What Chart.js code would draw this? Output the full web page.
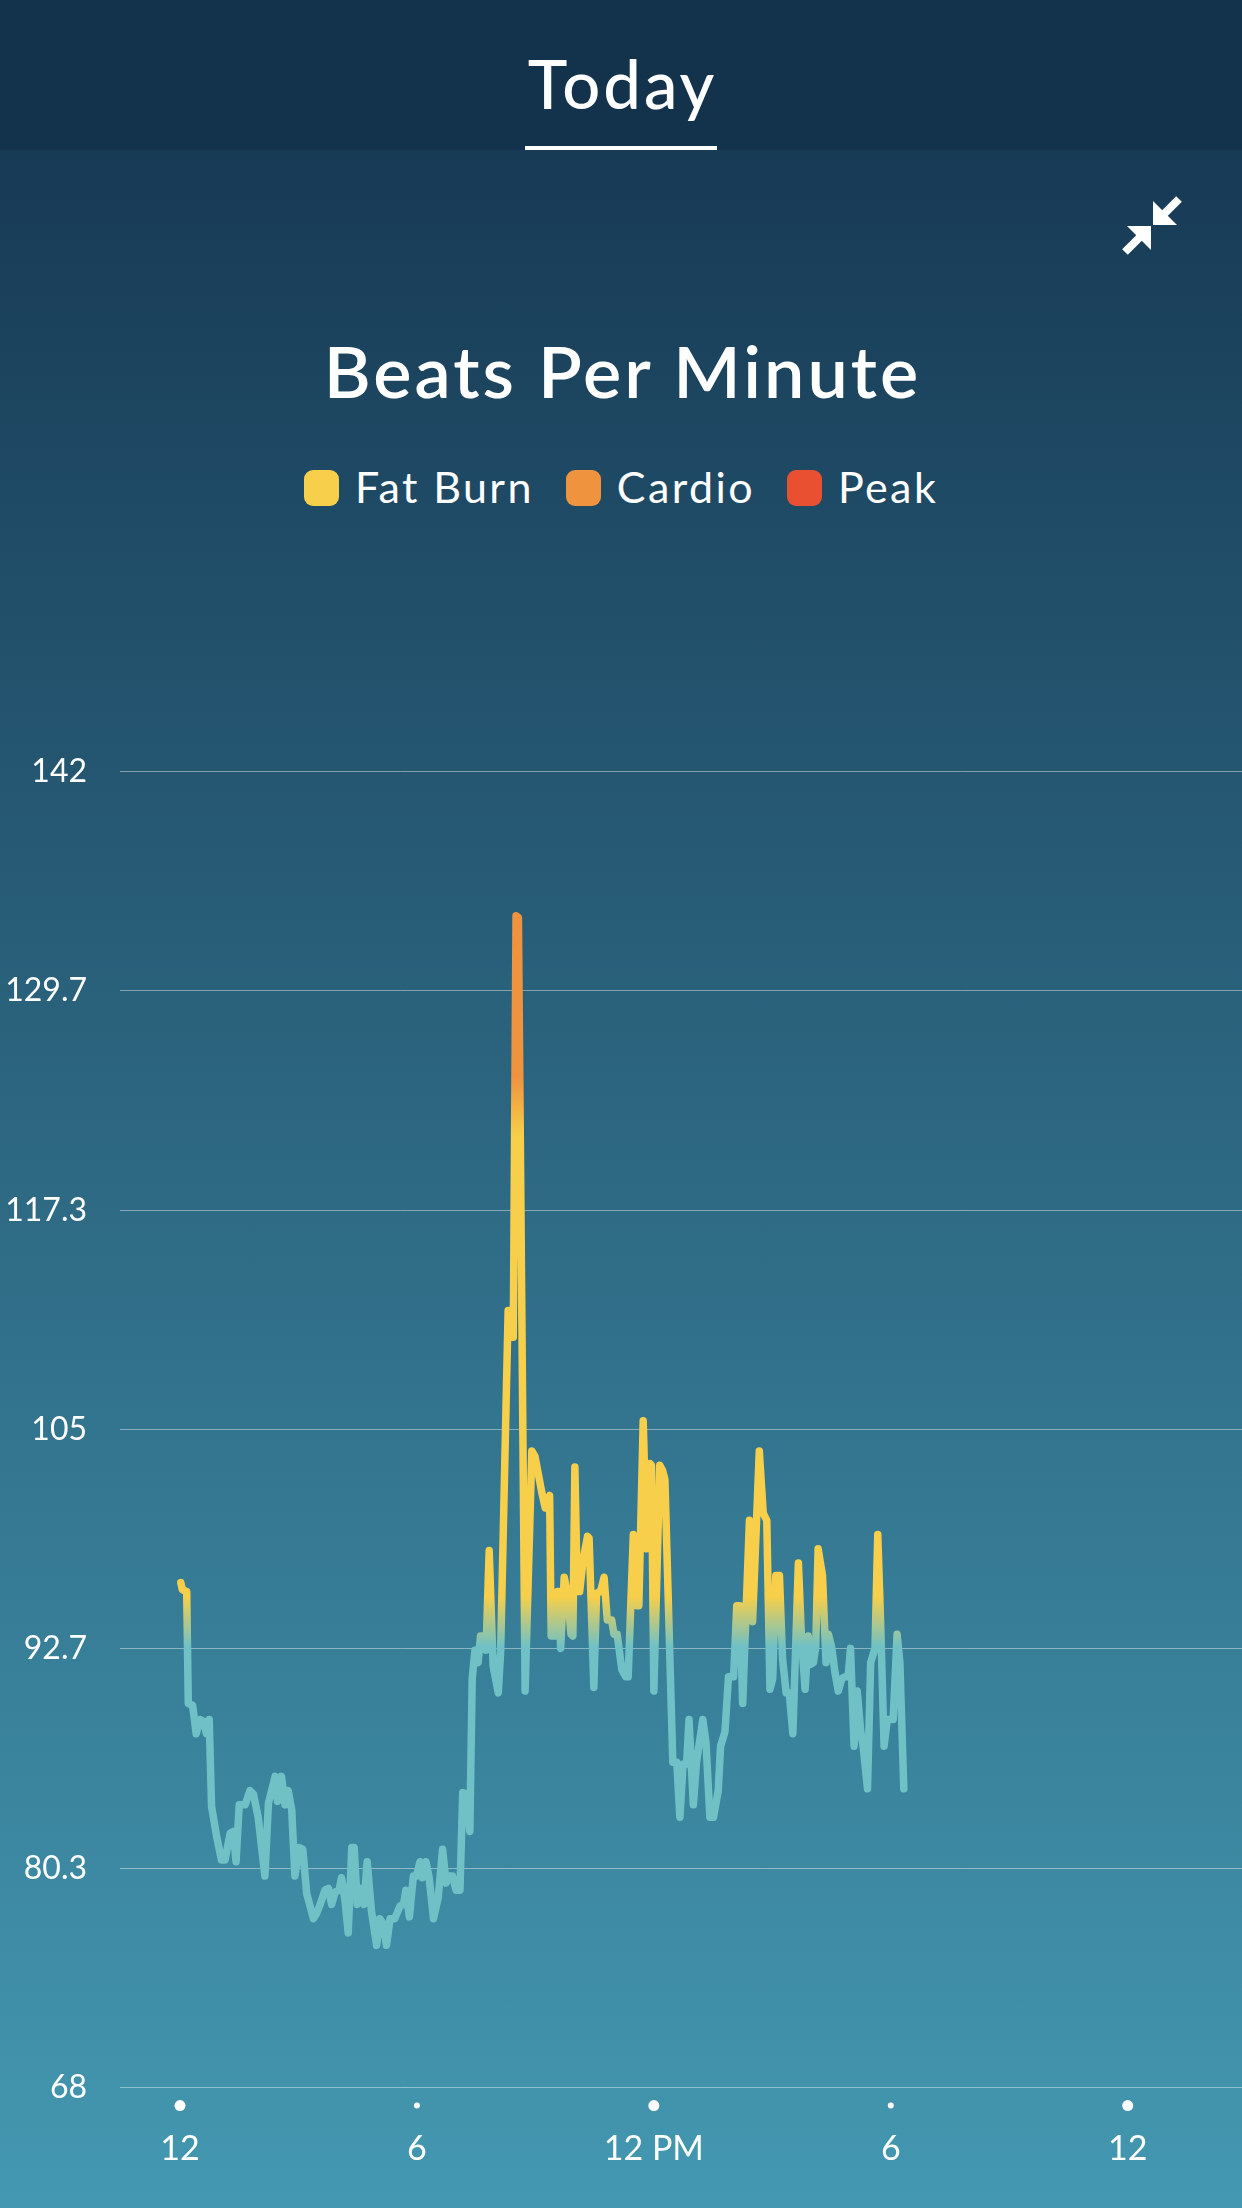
<!DOCTYPE html>
<html><head><meta charset="utf-8">
<script src="https://cdn.jsdelivr.net/npm/chart.js@4.4.1/dist/chart.umd.min.js"></script>
<style>
html,body{margin:0;padding:0;}
body{width:1242px;height:2208px;position:relative;overflow:hidden;font-family:Lato,"Open Sans",sans-serif;color:#fff;
background:linear-gradient(180deg,#173a55 0px,#173a55 150px,#4498b1 2208px);}
#hdr{position:absolute;left:0;top:0;width:1242px;height:150px;background:#13324b;}
#today{position:absolute;left:0;width:1242px;top:50px;text-align:center;font-size:67px;line-height:67px;font-weight:500;letter-spacing:3px;text-indent:3px;}
#uline{position:absolute;left:525px;top:146px;width:192px;height:4px;background:#fff;}
#icon{position:absolute;left:1120px;top:195px;}
#title{position:absolute;left:0;width:1242px;top:334px;text-align:center;font-size:72px;line-height:72px;font-weight:600;letter-spacing:3px;text-indent:3px;}
#legend{position:absolute;left:0;width:1242px;top:465px;display:flex;justify-content:center;font-size:43px;line-height:43px;letter-spacing:2.4px;}
.item{display:flex;align-items:flex-start;margin:0 16px;}
.box{width:35px;height:36px;border-radius:9px;margin-right:16px;margin-top:5px;}
#wrap{position:absolute;left:0;top:700px;width:1242px;height:1508px;}
</style></head>
<body>
<div id="hdr"><div id="today">Today</div><div id="uline"></div></div>
<svg id="icon" width="64" height="64" viewBox="0 0 64 64">
  <polygon points="33,30 33,6 57,30" fill="#fff"/>
  <line x1="43" y1="20" x2="59" y2="4" stroke="#fff" stroke-width="8"/>
  <polygon points="31,31 7,31 31,55" fill="#fff"/>
  <line x1="21" y1="41" x2="5" y2="57" stroke="#fff" stroke-width="8"/>
</svg>
<div id="title">Beats Per Minute</div>
<div id="legend"></div>
<div id="wrap"><canvas id="c" width="1242" height="1508"></canvas></div>
<script>
// ---- data ----
const hours = [0.02,0.06,0.17,0.21,0.32,0.41,0.51,0.60,0.67,0.74,0.80,0.93,1.05,1.14,1.27,1.35,1.42,1.50,1.65,1.77,1.86,1.98,2.15,2.24,2.41,2.47,2.57,2.66,2.74,2.83,2.91,3.02,3.11,3.21,3.38,3.46,3.55,3.67,3.76,3.84,3.93,4.03,4.09,4.18,4.26,4.35,4.41,4.49,4.58,4.66,4.74,4.85,4.98,5.06,5.15,5.23,5.32,5.44,5.57,5.66,5.72,5.81,5.91,5.99,6.08,6.14,6.23,6.31,6.42,6.54,6.65,6.74,6.80,6.90,6.99,7.09,7.16,7.26,7.34,7.40,7.47,7.55,7.61,7.70,7.75,7.83,7.93,8.06,8.12,8.31,8.36,8.40,8.44,8.51,8.57,8.74,8.91,8.99,9.16,9.25,9.36,9.40,9.50,9.56,9.60,9.64,9.73,9.82,9.90,9.95,10.00,10.06,10.12,10.21,10.32,10.36,10.48,10.55,10.65,10.74,10.82,10.93,10.99,11.07,11.19,11.29,11.35,11.48,11.56,11.62,11.73,11.82,11.90,11.94,12.00,12.15,12.22,12.28,12.48,12.58,12.66,12.74,12.83,12.89,13.00,13.08,13.24,13.32,13.42,13.51,13.63,13.69,13.80,13.89,14.02,14.10,14.18,14.25,14.42,14.50,14.67,14.77,14.86,14.94,15.01,15.09,15.18,15.26,15.35,15.43,15.52,15.66,15.74,15.83,15.91,15.97,16.04,16.10,16.16,16.27,16.36,16.42,16.50,16.59,16.67,16.76,16.84,16.92,16.98,17.07,17.15,17.24,17.30,17.41,17.49,17.60,17.67,17.75,17.83,17.91,17.98,18.06,18.16,18.23,18.33];
const bpm = [96.4,96.0,95.9,89.6,89.5,87.9,88.7,88.6,87.9,88.7,83.8,82.1,80.8,80.8,82.3,82.4,80.7,83.9,83.9,84.7,84.5,83.2,79.9,84.0,85.5,84.1,85.5,83.9,84.7,83.6,79.9,81.5,81.4,78.9,77.5,77.8,78.3,79.1,79.2,78.3,79.0,79.1,79.8,78.5,76.7,81.5,81.5,78.3,79.2,78.3,80.7,77.9,76.0,77.5,77.2,76.0,77.5,77.5,78.2,78.3,79.1,77.6,79.9,79.9,80.7,79.8,80.7,79.8,77.5,78.7,81.4,79.5,79.9,79.9,79.1,79.1,84.6,84.5,82.4,91.0,92.6,91.9,93.4,93.4,92.6,98.2,91.7,90.2,92.5,111.7,111.7,110.2,110.2,133.9,133.8,90.3,103.8,103.5,101.5,100.6,101.3,93.4,93.4,95.9,95.9,92.7,96.7,95.7,93.5,93.4,102.9,95.9,95.9,97.7,99.0,98.9,90.5,95.8,95.9,96.7,94.3,94.3,93.5,93.5,91.5,91.1,91.1,99.1,95.1,95.1,105.5,98.3,103.1,103.0,90.3,103.0,102.7,102.2,86.3,86.3,83.2,86.2,86.2,88.7,83.9,86.3,88.7,87.4,83.2,83.2,84.7,87.2,88.0,91.1,91.1,95.1,95.1,89.6,99.9,94.2,103.8,100.3,99.9,90.4,91.0,96.8,96.8,92.1,90.2,90.2,87.9,97.5,93.2,90.4,93.4,91.8,91.9,92.8,98.3,96.8,91.9,93.5,92.8,91.3,90.3,91.0,91.1,91.1,92.7,87.2,90.3,88.0,87.2,84.8,91.9,92.7,99.1,93.6,87.2,88.7,88.7,88.7,93.5,91.9,84.8];
const xTickHours = [0, 6, 12, 18, 24];
const xTickLabels = ['12', '6', '12 PM', '6', '12'];
const yTickValues = [68, 80.3, 92.7, 105, 117.3, 129.7, 142];
const yTickLabels = ['68', '80.3', '92.7', '105', '117.3', '129.7', '142'];
const zoneNames = ['Fat Burn', 'Cardio', 'Peak'];
const zoneColors = ['#f7cf4a', '#ef933e', '#e95032'];

// ---- legend ----
const lg = document.getElementById('legend');
zoneNames.forEach((n, i) => {
  const it = document.createElement('div'); it.className = 'item';
  const b = document.createElement('div'); b.className = 'box'; b.style.background = zoneColors[i];
  const t = document.createElement('span'); t.textContent = n;
  it.appendChild(b); it.appendChild(t); lg.appendChild(it);
});

const TEAL = '#70c1c5';
function lineGradient(ctx) {
  const chart = ctx.chart;
  const area = chart.chartArea;
  if (!area) return TEAL;
  const y = chart.scales.y;
  const p = v => y.getPixelForValue(v);
  const g = chart.ctx.createLinearGradient(0, p(68), 0, p(142));
  const s = v => (v - 68) / 74;
  g.addColorStop(0, TEAL);
  g.addColorStop(s(92.8), TEAL);
  g.addColorStop(s(95.6), zoneColors[0]);
  g.addColorStop(s(121.5), zoneColors[0]);
  g.addColorStop(s(124.8), zoneColors[1]);
  g.addColorStop(s(138), zoneColors[1]);
  g.addColorStop(1, zoneColors[2]);
  return g;
}

const dotPlugin = {
  id: 'tickDots',
  afterDraw(chart) {
    const c = chart.ctx, x = chart.scales.x, yb = chart.chartArea.bottom + 18;
    c.save(); c.fillStyle = '#fff';
    xTickHours.forEach(h => {
      const r = (h % 12 === 0) ? 5.5 : 3;
      c.beginPath(); c.arc(x.getPixelForValue(h), yb, r, 0, Math.PI * 2); c.fill();
    });
    c.restore();
  }
};

Chart.defaults.font.family = 'Lato, "Open Sans", sans-serif';
new Chart(document.getElementById('c'), {
  type: 'line',
  data: {
    datasets: [{
      data: hours.map((h, i) => ({ x: h, y: bpm[i] })),
      borderColor: lineGradient,
      borderWidth: 7.5,
      borderJoinStyle: 'round',
      borderCapStyle: 'round',
      pointRadius: 0,
      tension: 0,
      fill: false
    }]
  },
  options: {
    responsive: false,
    animation: false,
    layout: { padding: { top: 71.7, left: 0, right: 0, bottom: 0 } },
    plugins: { legend: { display: false }, tooltip: { enabled: false } },
    scales: {
      x: {
        type: 'linear',
        min: -1.519,
        max: 26.894,
        grid: { display: false },
        border: { display: false },
        afterBuildTicks: s => { s.ticks = xTickHours.map(v => ({ value: v })); },
        afterFit: s => { s.height = 120.4; },
        ticks: {
          color: '#fff',
          font: { size: 34 },
          padding: 33,
          maxRotation: 0,
          autoSkip: false,
          callback: (v) => xTickLabels[xTickHours.indexOf(v)]
        }
      },
      y: {
        min: 68,
        max: 142,
        grid: { color: 'rgba(255,255,255,0.42)', lineWidth: 1, drawTicks: false },
        border: { display: false },
        afterBuildTicks: s => { s.ticks = yTickValues.map(v => ({ value: v })); },
        afterFit: s => { s.width = 120; },
        ticks: {
          color: '#fff',
          font: { size: 32 },
          padding: 33,
          autoSkip: false,
          callback: (v) => yTickLabels[yTickValues.indexOf(v)]
        }
      }
    }
  },
  plugins: [dotPlugin]
});
</script>
</body></html>
